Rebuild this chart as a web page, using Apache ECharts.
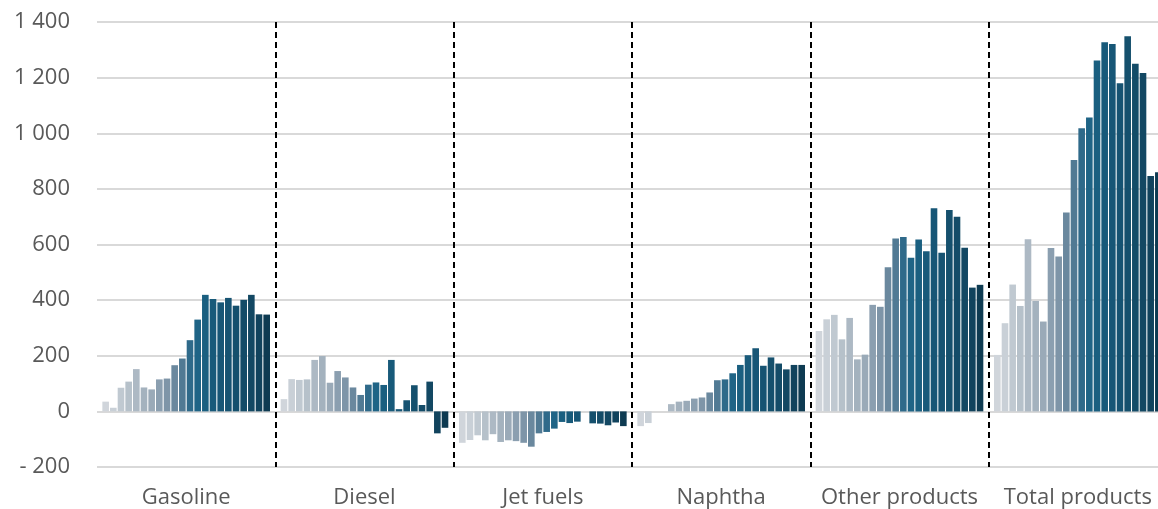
<!DOCTYPE html>
<html>
<head>
<meta charset="utf-8">
<script src="https://cdn.jsdelivr.net/npm/echarts@6/dist/echarts.min.js"></script>
<style>
html,body{margin:0;padding:0;background:#fff;overflow:hidden;}
#chart{width:1158px;height:509px;}
</style>
</head>
<body>
<div id="chart"></div>
<script>
const categories = ["Gasoline", "Diesel", "Jet fuels", "Naphtha", "Other products", "Total products"];
const gasoline = [35, 13, 85, 107, 152, 86, 79, 115, 118, 166, 190, 256, 330, 419, 404, 392, 408, 380, 401, 419, 349, 348];
const diesel = [44, 116, 113, 115, 185, 199, 103, 145, 122, 86, 59, 96, 104, 95, 185, 8, 40, 94, 23, 107, -79, -59];
const jetFuels = [-113, -103, -86, -104, -82, -110, -104, -107, -113, -127, -79, -74, -62, -38, -42, -37, 0, -43, -44, -50, -40, -53];
const naphtha = [-53, -42, 0, 0, 26, 35, 38, 46, 50, 68, 112, 115, 137, 167, 202, 227, 164, 194, 172, 151, 167, 167];
const otherProducts = [289, 331, 347, 259, 336, 187, 204, 383, 376, 518, 622, 627, 552, 618, 576, 730, 570, 724, 700, 588, 445, 455];
const totalProducts = [203, 317, 456, 379, 619, 397, 323, 587, 557, 715, 904, 1018, 1057, 1262, 1327, 1321, 1180, 1349, 1250, 1217, 846, 860];
const yTicks = { min: -200, max: 1400, interval: 200 };
const barColors = ["#d0d5db", "#c9d0d7", "#c0c9d1", "#b6c1ca", "#adb9c4", "#a4b2be", "#9aaab8", "#8b9fb0", "#7e95a8", "#6a889e", "#517a94", "#2f6a8a", "#1f6486", "#1a5f80", "#185a7a", "#175676", "#165372", "#15506d", "#144c68", "#134863", "#11435d", "#0e3b52"];

const groups = [gasoline, diesel, jetFuels, naphtha, otherProducts, totalProducts];
const series = barColors.map((c, i) => ({
  type: 'bar',
  name: 'S' + (i + 1),
  data: groups.map(g => g[i]),
  itemStyle: { color: c },
  barGap: '16%',
  barCategoryGap: '6%',
  animation: false
}));

const chart = echarts.init(document.getElementById('chart'));
chart.setOption({
  animation: false,
  grid: { left: 97, width: 1070, top: 22, bottom: 42, containLabel: false, outerBoundsMode: 'none' },
  xAxis: {
    type: 'category',
    data: categories,
    axisLine: { show: false },
    axisTick: { show: false },
    axisLabel: { interval: 0, color: '#595959', fontSize: 22, fontFamily: 'Open Sans', margin: 20 },
    splitLine: {
      show: true,
      interval: (idx) => idx !== 0,
      lineStyle: { color: '#000', width: 2, type: [6, 4] }
    }
  },
  yAxis: {
    type: 'value',
    min: yTicks.min, max: yTicks.max, interval: yTicks.interval,
    axisLine: { show: false },
    axisTick: { show: false },
    axisLabel: {
      color: '#595959', fontSize: 22, fontFamily: 'Open Sans', margin: 27,
      formatter: v => {
        const a = Math.abs(v);
        let s = a >= 1000 ? Math.floor(a / 1000) + ' ' + String(a % 1000).padStart(3, '0') : String(a);
        return v < 0 ? '- ' + s : s;
      }
    },
    splitLine: { lineStyle: { color: '#d9d9d9', width: 2 } }
  },
  series: series
});
</script>
</body>
</html>
